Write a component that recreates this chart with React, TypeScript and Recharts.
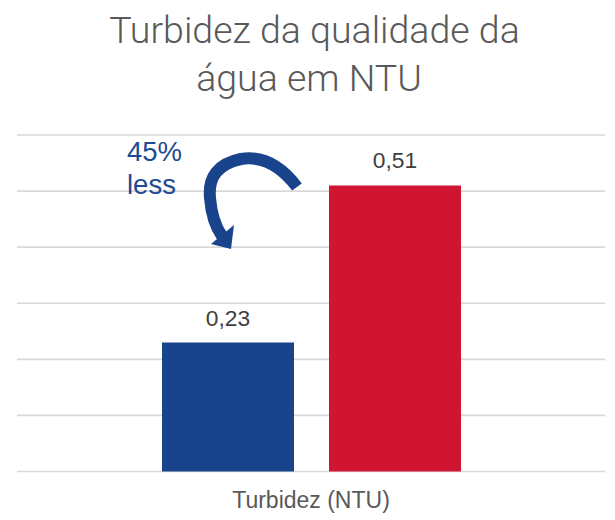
import React from 'react';
import { BarChart, Bar, XAxis, YAxis, CartesianGrid, LabelList } from 'recharts';

const categories = ['Turbidez (NTU)'];
const seriesBlue = [0.23];
const seriesRed = [0.51];
const yTicks = [0, 0.1, 0.2, 0.3, 0.4, 0.5, 0.6];
const titleLines = ['Turbidez da qualidade da', 'água em NTU'];
const noteLines = ['45%', 'less'];

const data = categories.map((c, i) => ({ name: c, blue: seriesBlue[i], red: seriesRed[i] }));

const fmt = (v: number) => v.toFixed(2).replace('.', ',');

const FONT = '"Liberation Sans", Arial, sans-serif';

export default function App() {
  return (
    <div style={{ position: 'absolute', left: 0, top: 0, width: 615, height: 520, background: '#fff' }}>
      <BarChart
        width={615}
        height={520}
        data={data}
        margin={{ top: 135, right: 10, left: 17, bottom: 8.5 }}
        barSize={132}
        barGap={35}
      >
        <CartesianGrid vertical={false} stroke="#d9d9d9" strokeWidth={1.6} />
        <YAxis hide domain={[0, 0.6]} ticks={yTicks} />
        <XAxis
          dataKey="name"
          axisLine={false}
          tickLine={false}
          tickSize={0}
          tickMargin={20}
          height={40}
          tick={{ fontSize: 23, fill: '#595959', fontFamily: FONT }}
        />
        <Bar dataKey="blue" fill="#19438a" isAnimationActive={false}>
          <LabelList dataKey="blue" position="top" offset={17} formatter={(v: any) => fmt(Number(v))} style={{ fontSize: 22.8, fill: '#404040', fontFamily: FONT }} />
        </Bar>
        <Bar dataKey="red" fill="#cf1530" isAnimationActive={false}>
          <LabelList dataKey="red" position="top" offset={17} formatter={(v: any) => fmt(Number(v))} style={{ fontSize: 22.8, fill: '#404040', fontFamily: FONT }} />
        </Bar>
      </BarChart>
      <svg width={615} height={520} style={{ position: 'absolute', left: 0, top: 0, pointerEvents: 'none' }}>
        <text x={314.5} y={43} textAnchor="middle" fontFamily="Roboto" fontWeight={300} fontSize={37.5} fill="#595959">{titleLines[0]}</text>
        <text x={309} y={91} textAnchor="middle" fontFamily="Roboto" fontWeight={300} fontSize={37.5} fill="#595959">{titleLines[1]}</text>
        <text x={127} y={161} fontFamily={FONT} fontSize={27.5} fill="#1f4a94">{noteLines[0]}</text>
        <text x={127} y={194} fontFamily={FONT} fontSize={27.5} fill="#1f4a94">{noteLines[1]}</text>
        <path d="M 297 187 Q 272 154 241 159 Q 207 166 210 198 Q 212 222 222 236" fill="none" stroke="#19438a" strokeWidth={12} />
        <polygon points="211,244 234,225 231,249" fill="#19438a" />
      </svg>
    </div>
  );
}
